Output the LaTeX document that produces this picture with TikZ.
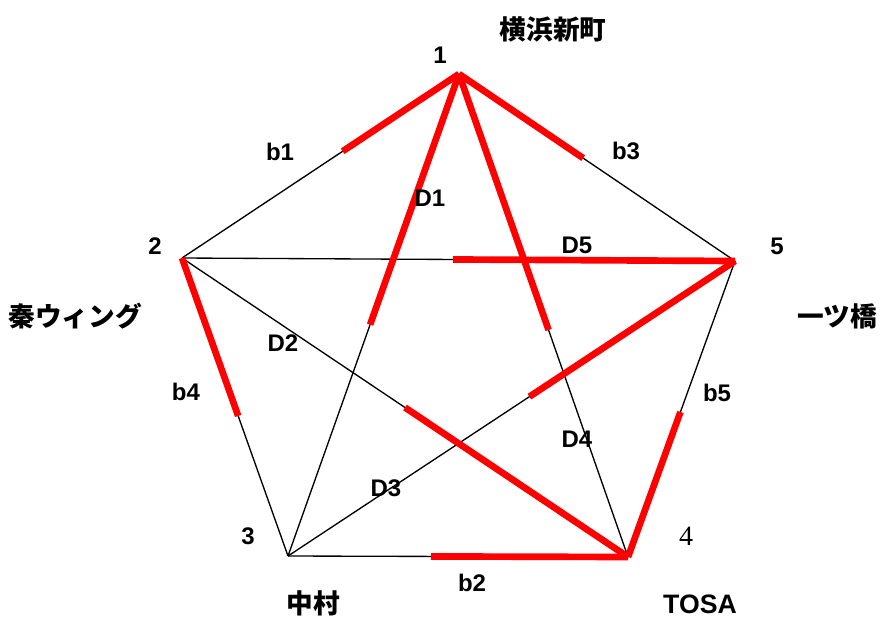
\documentclass[tikz,border=0pt]{standalone}
\usepackage{fontspec}
\setmainfont{Liberation Sans}
\newfontfamily\jpfont{Noto Sans CJK JP}
\newfontfamily\numfont{Liberation Serif}
\usepackage{tikz}
\usetikzlibrary{calc}

\begin{document}
\begin{tikzpicture}[
        x=0.75pt, y=-0.75pt,
        edge/.style={draw=black, line width=1pt},
        hot/.style={draw=red, line width=5pt},
        tag/.style={font=\fontsize{18}{20}\selectfont\bfseries, inner sep=0pt},
        num/.style={font=\fontsize{18}{20}\selectfont\bfseries, inner sep=0pt},
        place/.style={font=\fontsize{20}{22}\selectfont\jpfont\bfseries, inner sep=0pt}
    ]
    \useasboundingbox (0,0) rectangle (880,617);

    % corners of the pentagon
    \coordinate (v1) at (459,74);
    \coordinate (v2) at (182,258);
    \coordinate (v3) at (288,556);
    \coordinate (v4) at (628,557);
    \coordinate (v5) at (735,261);

    % where the red parts stop
    \coordinate (h12) at ($(v1)!0.42!(v2)$);
    \coordinate (h15) at ($(v1)!0.45!(v5)$);
    \coordinate (h13) at ($(v1)!0.52!(v3)$);
    \coordinate (h14) at ($(v1)!0.53!(v4)$);
    \coordinate (h52) at ($(v5)!0.51!(v2)$);
    \coordinate (h53) at ($(v5)!0.46!(v3)$);
    \coordinate (h42) at ($(v4)!0.50!(v2)$);
    \coordinate (h43) at ($(v4)!0.58!(v3)$);
    \coordinate (h45) at ($(v4)!0.49!(v5)$);
    \coordinate (h23) at ($(v2)!0.53!(v3)$);

    % all ten links
    \draw [edge] (v1) -- (v2);
    \draw [edge] (v1) -- (v3);
    \draw [edge] (v1) -- (v4);
    \draw [edge] (v1) -- (v5);
    \draw [edge] (v2) -- (v3);
    \draw [edge] (v2) -- (v4);
    \draw [edge] (v2) -- (v5);
    \draw [edge] (v3) -- (v4);
    \draw [edge] (v3) -- (v5);
    \draw [edge] (v4) -- (v5);

    % red halves
    \draw [hot] (v1) -- (h12);
    \draw [hot] (v1) -- (h15);
    \draw [hot] (v1) -- (h13);
    \draw [hot] (v1) -- (h14);
    \draw [hot] (v5) -- (h52);
    \draw [hot] (v5) -- (h53);
    \draw [hot] (v4) -- (h42);
    \draw [hot] (v4) -- (h43);
    \draw [hot] (v4) -- (h45);
    \draw [hot] (v2) -- (h23);

    % vertex numbers
    \node (n1) [num] at (440,55) {1};
    \node (n2) [num] at (155,246) {2};
    \node (n3) [num] at (248,536) {3};
    \node (n4) [font=\fontsize{21}{23}\selectfont\numfont, inner sep=0pt] at (686,536) {4};
    \node (n5) [num] at (777,246) {5};

    % station names
    \node (p1) [place] at (553,29) {横浜新町};
    \node (p2) [place] at (75,316) {秦ウィング};
    \node (p3) [place] at (313,603) {中村};
    \node (p4) [font=\fontsize{20}{22}\selectfont\bfseries, inner sep=0pt] at (700,604) {TOSA};
    \node (p5) [place] at (837,316) {一ツ橋};

    % link names
    \node (b1) [tag] at (280,152) {b1};
    \node (b2) [tag] at (472,583) {b2};
    \node (b3) [tag] at (626,151) {b3};
    \node (b4) [tag] at (186,392) {b4};
    \node (b5) [tag] at (717,393) {b5};
    \node (d1) [tag] at (430,198) {D1};
    \node (d2) [tag] at (283,343) {D2};
    \node (d3) [tag] at (386,488) {D3};
    \node (d4) [tag] at (577,439) {D4};
    \node (d5) [tag] at (577,245) {D5};

\end{tikzpicture}
\end{document}
